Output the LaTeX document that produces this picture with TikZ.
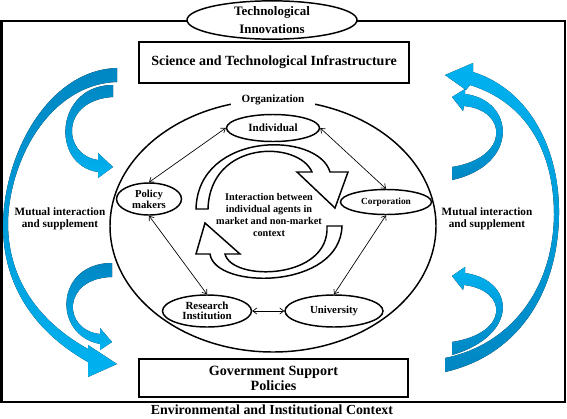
\documentclass[tikz,border=0pt]{standalone}
\usepackage{fontspec}
\setmainfont{Liberation Serif}
\usetikzlibrary{arrows.meta,shapes.geometric}
\definecolor{bdark}{RGB}{0,135,195}
\definecolor{blight}{RGB}{0,178,240}
\begin{document}
\begin{tikzpicture}[x=0.75pt,y=-0.75pt,
  ell/.style={draw,ellipse,line width=1.1pt,inner sep=0pt,align=center,fill=white},
  lnk/.style={{Straight Barb[length=3pt,width=4.5pt]}-{Straight Barb[length=3pt,width=4.5pt]},line width=0.5pt},
  boxs/.style={draw,line width=1.1pt,inner sep=0pt,align=center},
  ribL/.style={top color=bdark,bottom color=blight,draw=none},
  ribR/.style={top color=blight,bottom color=bdark,draw=none},
  cyc/.style={draw,line width=1.1pt,fill=white,line join=miter},
  txt/.style={align=center,inner sep=0pt}
]
\useasboundingbox (0,0) rectangle (567,418);

% blue ribbon arrows
\fill[ribL] (117,68) .. controls (50,70) and (5,150) .. (3,223) .. controls (2,290) and (40,335) .. (88,362) -- (88,377) -- (117,364) -- (88,345) -- (88,349) .. controls (45,325) and (8,285) .. (8,223) .. controls (9,160) and (50,84) .. (117,82) -- cycle;
\fill[ribL] (113,85) .. controls (55,85) and (50,165) .. (98,172) -- (98,178) -- (113,167) -- (98,153) -- (98,160) .. controls (62,155) and (60,100) .. (113,97) -- cycle;
\fill[ribL] (112,263) .. controls (55,263) and (52,335) .. (100,344) -- (100,350) -- (112,342) -- (100,328) -- (100,334) .. controls (62,330) and (62,278) .. (112,277) -- cycle;
\fill[ribR] (445,372) .. controls (520,355) and (558,290) .. (559,215) .. controls (560,150) and (530,90) .. (473,72) -- (473,63) -- (445,75) -- (466,90) -- (470,85) .. controls (525,102) and (554,150) .. (554,215) .. controls (553,290) and (510,345) .. (445,358) -- cycle;
\fill[ribR] (452,180) .. controls (520,165) and (515,100) .. (465,94) -- (465,89) -- (452,97) -- (463,111) -- (464,106) .. controls (508,110) and (510,158) .. (452,167) -- cycle;
\fill[ribR] (452,355) .. controls (520,335) and (515,280) .. (465,273) -- (465,267) -- (452,276) -- (463,290) -- (464,285) .. controls (508,290) and (510,333) .. (452,342) -- cycle;

% frame
\draw[line width=1.5pt] (1.5,20.5) rectangle (565,402);
\node[ell,minimum width=127.5pt,minimum height=27.75pt,font=\fontsize{9.7}{13.5}\selectfont\bfseries] (tech) at (272,20) {Technological\\Innovations};

% boxes
\node[boxs,minimum width=202.5pt,minimum height=30.75pt,font=\fontsize{10.5}{12}\selectfont\bfseries] (sci) at (274,62.5) {Science and Technological Infrastructure};
\node[boxs,minimum width=201.75pt,minimum height=28.5pt,font=\fontsize{10.6}{11.3}\selectfont\bfseries] (gov) at (273.5,378) {Government Support\\Policies};

% organization
\node[draw,ellipse,line width=1.1pt,minimum width=244.5pt,minimum height=189pt,inner sep=0pt] (org) at (273,226) {};
\node[fill=white,inner xsep=8pt,inner ysep=1pt,font=\fontsize{8.3}{9}\selectfont\bfseries] (orglab) at (273,100) {Organization};

% agents
\node[ell,minimum width=69.75pt,minimum height=20.25pt,font=\fontsize{8.3}{9}\selectfont\bfseries] (ind) at (273,128) {Individual};
\node[ell,minimum width=48.75pt,minimum height=24pt,font=\fontsize{8}{8.3}\selectfont\bfseries] (pol) at (149,199) {Policy\\makers};
\node[ell,minimum width=68.25pt,minimum height=18.75pt,font=\fontsize{7}{8}\selectfont\bfseries] (corp) at (386,202) {Corporation};
\node[ell,minimum width=66.75pt,minimum height=24pt,font=\fontsize{8.2}{7.6}\selectfont\bfseries] (res) at (207,311) {Research\\Institution};
\node[ell,minimum width=73.5pt,minimum height=24pt,font=\fontsize{8.1}{9}\selectfont\bfseries] (uni) at (334,311) {University};

\draw[lnk] (ind.west) -- (pol.north);
\draw[lnk] (ind.east) -- (corp.north);
\draw[lnk] (pol.south) -- (res.north);
\draw[lnk] (corp.south) -- (uni.north);
\draw[lnk] (res.east) -- (uni.west);

% cycle arrows
\draw[cyc] (196,209) .. controls (198,131) and (318,131) .. (330,172) -- (348,172) -- (335,208) -- (297,172) -- (312,172) .. controls (298,140) and (210,140) .. (208,209) -- cycle;
\draw[cyc] (342,226) .. controls (340,290) and (215,290) .. (210,254) -- (196,254) -- (205,223) -- (240,254) -- (225,254) .. controls (232,282) and (330,280) .. (327,226) -- cycle;

\node[txt,font=\fontsize{7.7}{9}\selectfont\bfseries] (inter) at (269,215) {Interaction between\\individual agents in\\market and non-market\\context};

% side texts
\node[txt,font=\fontsize{8.4}{9}\selectfont\bfseries] (mutL) at (60,219) {Mutual interaction\\and supplement};
\node[txt,font=\fontsize{8.4}{9}\selectfont\bfseries] (mutR) at (487,219) {Mutual interaction\\and supplement};

\node[txt,font=\fontsize{10.4}{12}\selectfont\bfseries] (env) at (272,410) {Environmental and Institutional Context};
\end{tikzpicture}
\end{document}
